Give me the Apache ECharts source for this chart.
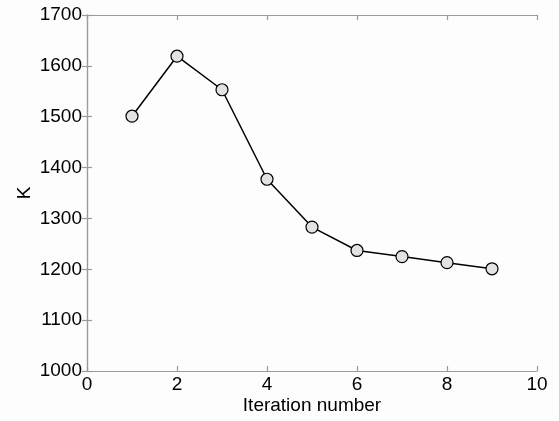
<!DOCTYPE html>
<html>
<head>
<meta charset="utf-8">
<script src="https://cdn.jsdelivr.net/npm/echarts@6/dist/echarts.min.js"></script>
<style>
  html, body { margin: 0; padding: 0; background: #fdfdfd; }
  #main { width: 559px; height: 421px; }
</style>
</head>
<body>
<div id="main"></div>
<script>
// iteration number vs K
var iterations = [1, 2, 3, 4, 5, 6, 7, 8, 9];
var kValues = [1501, 1619, 1553, 1377, 1283, 1237, 1225, 1213, 1201];

var points = iterations.map(function (it, i) { return [it, kValues[i]]; });

var chart = echarts.init(document.getElementById("main"));

var labelFont = { color: "#000", fontSize: 19, fontFamily: "Liberation Sans, Arial, sans-serif" };
var axisGrey = { color: "#9a9a9a", width: 1.2 };
var plain = function (v) { return String(v); };

var option = {
  backgroundColor: "#fdfdfd",
  animation: false,
  grid: { left: 87, top: 15, width: 450, height: 356 },
  xAxis: [
    {
      type: "value",
      min: 0,
      max: 10,
      interval: 2,
      name: "Iteration number",
      nameLocation: "middle",
      nameGap: 25,
      nameMoveOverlap: false,
      nameTextStyle: labelFont,
      axisLine: { show: true, lineStyle: axisGrey },
      axisTick: { show: true, inside: true, length: 5, lineStyle: axisGrey },
      axisLabel: Object.assign({ margin: 4, formatter: plain }, labelFont),
      splitLine: { show: false }
    },
    {
      type: "value",
      position: "top",
      min: 0,
      max: 10,
      interval: 2,
      axisLine: { show: true, lineStyle: axisGrey },
      axisTick: { show: true, inside: true, length: 5, lineStyle: axisGrey },
      axisLabel: { show: false },
      splitLine: { show: false }
    }
  ],
  yAxis: [
    {
      type: "value",
      min: 1000,
      max: 1700,
      interval: 100,
      name: "K",
      nameLocation: "middle",
      nameGap: 53,
      nameMoveOverlap: false,
      nameTextStyle: labelFont,
      axisLine: { show: true, lineStyle: axisGrey },
      axisTick: { show: true, inside: true, length: 5, lineStyle: axisGrey },
      axisLabel: Object.assign({ margin: 5, formatter: plain }, labelFont),
      splitLine: { show: false }
    },
    {
      type: "value",
      position: "right",
      min: 1000,
      max: 1700,
      interval: 100,
      axisLine: { show: true, lineStyle: axisGrey },
      axisTick: { show: true, inside: true, length: 5, lineStyle: axisGrey },
      axisLabel: { show: false },
      splitLine: { show: false }
    }
  ],
  series: [
    {
      type: "line",
      data: points,
      xAxisIndex: 0,
      yAxisIndex: 0,
      symbol: "circle",
      symbolSize: 12,
      lineStyle: { color: "#000", width: 1.5 },
      itemStyle: { color: "#e2e2e2", borderColor: "#000", borderWidth: 1.2 }
    }
  ]
};

chart.setOption(option);
</script>
</body>
</html>
